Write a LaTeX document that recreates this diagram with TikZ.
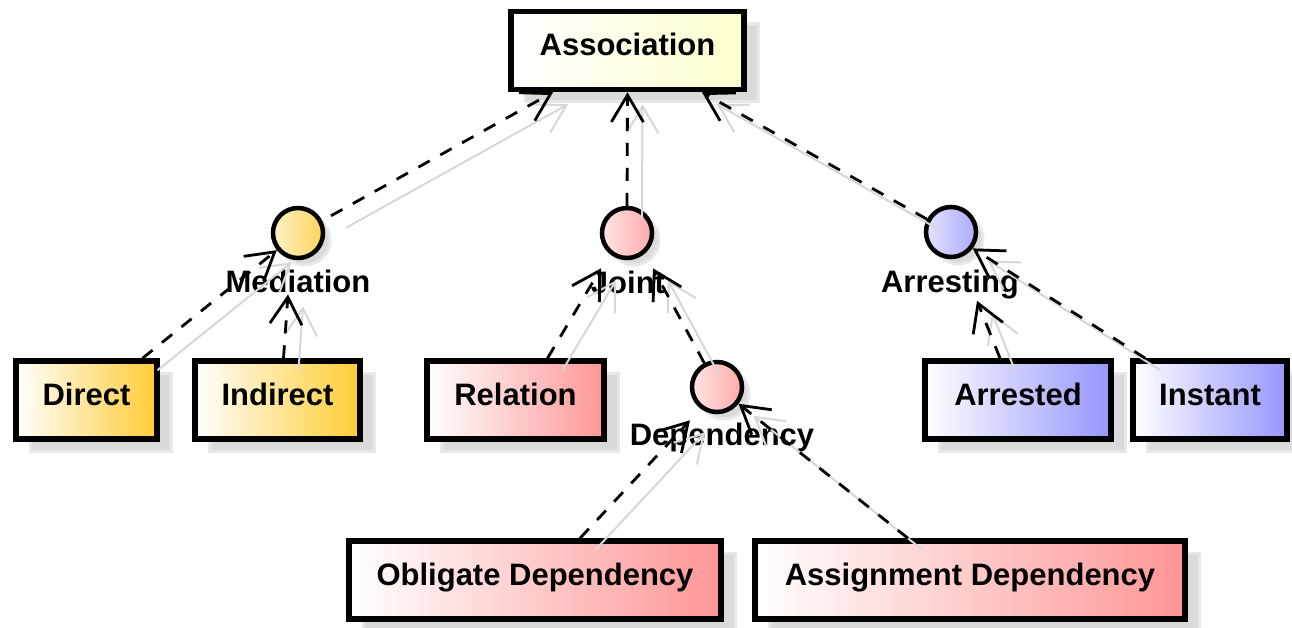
\documentclass[tikz,border=0pt]{standalone}
\usepackage{fontspec}
\setmainfont{Liberation Sans}
\usepackage{xcolor}
\usepackage{tikz}
\usetikzlibrary{arrows.meta,shadows}

\begin{document}
\begin{tikzpicture}[x=1pt,y=-1pt,
  font=\fontsize{31}{37}\selectfont\bfseries,
  classBox/.style={draw=black,line width=5.5pt,inner sep=0pt,minimum height=78pt,
    text height=22pt,text depth=12pt,left color=white,
    drop shadow={shadow xshift=14pt,shadow yshift=-12pt,fill=shadowColor,
      draw=shadowEdge,line width=3pt,opacity=1}},
  ifaceCircle/.style={circle,draw=black,line width=4.5pt,inner sep=0pt,minimum size=50pt,
    drop shadow={shadow xshift=7pt,shadow yshift=-7pt,fill=shadowColor,
      draw=shadowEdge,line width=3pt,opacity=1}},
  ifaceLabel/.style={anchor=base,inner sep=2pt},
  realizeLine/.style={draw=black,line width=2.8pt,dash pattern=on 13pt off 12pt,
    -{Straight Barb[length=27pt,width=32pt,line width=2.8pt]}},
  realizeShadow/.style={draw=lineShadow,line width=2pt,
    -{Straight Barb[length=27pt,width=32pt,line width=2pt]},
    transform canvas={xshift=15pt,yshift=-12pt}}]
\definecolor{fillColor}{RGB}{255,255,255}
\definecolor{shadowColor}{RGB}{218,218,218}
\definecolor{shadowEdge}{RGB}{232,232,232}
\definecolor{lineShadow}{RGB}{215,215,215}
\definecolor{assocColor}{RGB}{254,254,206}
\definecolor{medColor}{RGB}{255,204,51}
\definecolor{medLight}{RGB}{255,242,200}
\definecolor{medDark}{RGB}{255,210,90}
\definecolor{jointColor}{RGB}{255,150,150}
\definecolor{jointLight}{RGB}{255,228,228}
\definecolor{jointDark}{RGB}{255,170,170}
\definecolor{arrColor}{RGB}{150,150,255}
\definecolor{arrLight}{RGB}{228,228,255}
\definecolor{arrDark}{RGB}{170,170,255}
\path[use as bounding box,fill=fillColor] (0,0) rectangle (1292,627);

% classes
\node[classBox,right color=assocColor,minimum width=233pt] (assoc) at (627.5,50.5) {Association};
\node[classBox,right color=medColor,minimum width=141pt] (direct) at (86.5,400) {Direct};
\node[classBox,right color=medColor,minimum width=165pt] (indirect) at (277.5,400) {Indirect};
\node[classBox,right color=jointColor,minimum width=177pt] (relation) at (515.5,400) {Relation};
\node[classBox,right color=arrColor,minimum width=186pt] (arrested) at (1018,400) {Arrested};
\node[classBox,right color=arrColor,minimum width=154pt] (instant) at (1210,400) {Instant};
\node[classBox,right color=jointColor,minimum width=372pt] (oblig) at (535,580) {Obligate Dependency};
\node[classBox,right color=jointColor,minimum width=430pt] (assign) at (970,580) {Assignment Dependency};

% interfaces
\node[ifaceCircle,left color=medLight,right color=medDark] (med) at (298,233) {};
\node[ifaceCircle,left color=jointLight,right color=jointDark] (joint) at (627,233) {};
\node[ifaceCircle,left color=arrLight,right color=arrDark] (arr) at (951,232) {};
\node[ifaceCircle,left color=jointLight,right color=jointDark] (dep) at (717,387) {};
\node[ifaceLabel] (medl) at (298,292) {Mediation};
\node[ifaceLabel] (jointl) at (628,293) {Joint};
\node[ifaceLabel] (arrl) at (950,292) {Arresting};
\node[ifaceLabel] (depl) at (722,445) {Dependency};

% realizations
\foreach \style in {realizeShadow,realizeLine} {
  \draw[\style,shorten <=10pt] (med.27) -- ([xshift=-74.5pt]assoc.south);
  \draw[\style] (joint.north) -- (assoc.south);
  \draw[\style] (arr.152) -- ([xshift=74.5pt]assoc.south);
  \draw[\style] ([xshift=56pt]direct.north) -- (med.219);
  \draw[\style] ([xshift=6pt]indirect.north) -- ([xshift=-10pt]medl.south);
  \draw[\style] ([xshift=32pt]relation.north) -- ([xshift=-27pt]jointl.north);
  \draw[\style] (dep.118) -- ([xshift=25pt]jointl.north);
  \draw[\style] ([xshift=45pt]oblig.north) -- ([xshift=-32pt]depl.north);
  \draw[\style] ([xshift=-62pt]assign.north) -- (dep.-38);
  \draw[\style] ([xshift=-18pt]arrested.north) -- ([xshift=27pt]arrl.south);
  \draw[\style] ([xshift=15pt]instant.north west) -- (arr.-37);
}
\end{tikzpicture}
\end{document}
